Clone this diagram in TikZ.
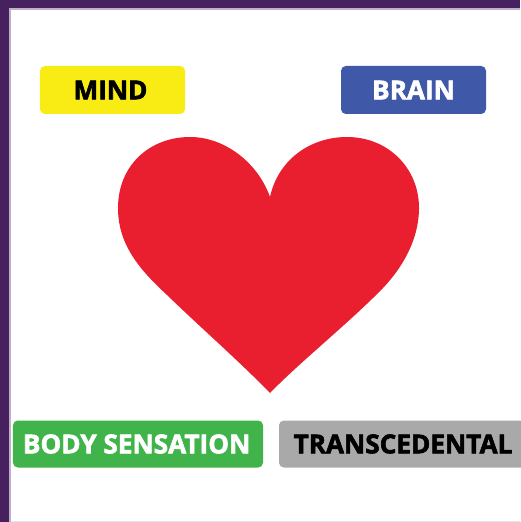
\documentclass[tikz,border=0pt]{standalone}
\usepackage{fontspec}
\setmainfont{Open Sans}[BoldFeatures={FakeBold=2.2}]
\usetikzlibrary{positioning}
\definecolor{framepurple}{HTML}{46205F}
\definecolor{heartred}{HTML}{E91F30}
\definecolor{mindyellow}{HTML}{F8EC14}
\definecolor{brainblue}{HTML}{3F58A8}
\definecolor{bodygreen}{HTML}{40B44A}
\definecolor{transgray}{HTML}{A9A9A9}
\begin{document}
\begin{tikzpicture}[
  x=0.25mm,y=-0.25mm,
  tag/.style={rounded corners=1.2mm,inner sep=0pt,minimum height=12mm,font=\fontsize{18.6}{20}\selectfont\bfseries}
]
\useasboundingbox (0,0) rectangle (520,522);
% --- frame ---
\fill[white] (0,0) rectangle (520,522);
\fill[framepurple!35] (0,0) rectangle (520,10);
\fill[framepurple!35] (0,0) rectangle (11,522);
\fill[framepurple] (0,0) rectangle (520,8);
\fill[framepurple] (0,0) rectangle (9,522);
\fill[framepurple!12] (11,520.5) rectangle (520,522);

% --- heart ---
\fill[heartred] (270,393)
  .. controls (240,362) and (200,327) .. (167,295)
  .. controls (140,270) and (118,245) .. (118,208)
  .. controls (118,165) and (150,137) .. (190,137)
  .. controls (225,137) and (258,163) .. (270,197)
  .. controls (278,160) and (310,137) .. (347,137)
  .. controls (388,137) and (419,168) .. (419,208)
  .. controls (419,240) and (402,268) .. (383,288)
  .. controls (350,322) and (300,362) .. (270,393) -- cycle;

% --- tags ---
\node[tag,fill=mindyellow,text=black,minimum width=36.25mm] (mind) at (112.5,90) {\hspace*{-1mm}MIND};
\node[tag,fill=brainblue,text=white,minimum width=36.25mm] (brain) at (413.5,90) {BRAIN};
\node[tag,fill=bodygreen,text=white,minimum width=62.5mm,minimum height=11.75mm] (body) at (138,444) {\hspace*{-0.7mm}BODY SENSATION};
\node[tag,fill=transgray,text=black,minimum width=62mm,minimum height=11.75mm] (trans) at (403,444) {TRANSCEDENTAL};
\end{tikzpicture}
\end{document}
